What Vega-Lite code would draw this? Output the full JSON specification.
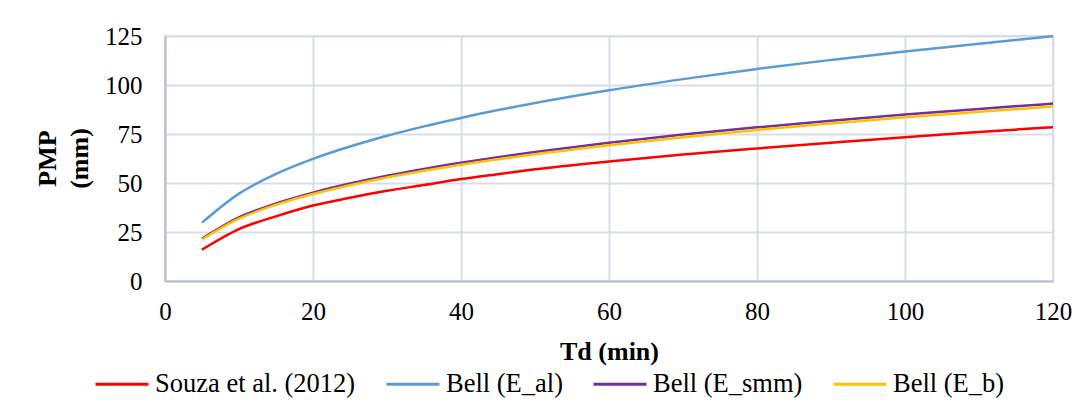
{
  "$schema": "https://vega.github.io/schema/vega-lite/v6.json",
  "width": 888,
  "height": 245,
  "autosize": {"type": "none"},
  "padding": {"left": 165, "top": 36, "right": 30, "bottom": 135},
  "background": "white",
  "config": {
    "font": "Liberation Serif",
    "view": {"stroke": "#D9DEE6", "strokeWidth": 2}
  },
  "data": {
    "values": [
      {"td": 5, "pmp": 16.0, "s": "Souza et al. (2012)"},
      {"td": 10, "pmp": 26.5, "s": "Souza et al. (2012)"},
      {"td": 15, "pmp": 33.0, "s": "Souza et al. (2012)"},
      {"td": 20, "pmp": 38.5, "s": "Souza et al. (2012)"},
      {"td": 25, "pmp": 42.5, "s": "Souza et al. (2012)"},
      {"td": 30, "pmp": 46.0, "s": "Souza et al. (2012)"},
      {"td": 35, "pmp": 49.0, "s": "Souza et al. (2012)"},
      {"td": 40, "pmp": 52.0, "s": "Souza et al. (2012)"},
      {"td": 45, "pmp": 54.5, "s": "Souza et al. (2012)"},
      {"td": 50, "pmp": 57.0, "s": "Souza et al. (2012)"},
      {"td": 60, "pmp": 61.0, "s": "Souza et al. (2012)"},
      {"td": 70, "pmp": 64.5, "s": "Souza et al. (2012)"},
      {"td": 80, "pmp": 67.6, "s": "Souza et al. (2012)"},
      {"td": 90, "pmp": 70.5, "s": "Souza et al. (2012)"},
      {"td": 100, "pmp": 73.4, "s": "Souza et al. (2012)"},
      {"td": 110, "pmp": 76.0, "s": "Souza et al. (2012)"},
      {"td": 120, "pmp": 78.5, "s": "Souza et al. (2012)"},

      {"td": 5, "pmp": 29.8, "s": "Bell (E_al)"},
      {"td": 10, "pmp": 44.6, "s": "Bell (E_al)"},
      {"td": 15, "pmp": 54.6, "s": "Bell (E_al)"},
      {"td": 20, "pmp": 62.3, "s": "Bell (E_al)"},
      {"td": 25, "pmp": 68.6, "s": "Bell (E_al)"},
      {"td": 30, "pmp": 74.1, "s": "Bell (E_al)"},
      {"td": 35, "pmp": 78.9, "s": "Bell (E_al)"},
      {"td": 40, "pmp": 83.2, "s": "Bell (E_al)"},
      {"td": 45, "pmp": 87.2, "s": "Bell (E_al)"},
      {"td": 50, "pmp": 90.8, "s": "Bell (E_al)"},
      {"td": 60, "pmp": 97.3, "s": "Bell (E_al)"},
      {"td": 70, "pmp": 103.0, "s": "Bell (E_al)"},
      {"td": 80, "pmp": 108.2, "s": "Bell (E_al)"},
      {"td": 90, "pmp": 112.8, "s": "Bell (E_al)"},
      {"td": 100, "pmp": 117.1, "s": "Bell (E_al)"},
      {"td": 110, "pmp": 121.1, "s": "Bell (E_al)"},
      {"td": 120, "pmp": 124.9, "s": "Bell (E_al)"},

      {"td": 5, "pmp": 21.6, "s": "Bell (E_smm)"},
      {"td": 10, "pmp": 32.4, "s": "Bell (E_smm)"},
      {"td": 15, "pmp": 39.6, "s": "Bell (E_smm)"},
      {"td": 20, "pmp": 45.1, "s": "Bell (E_smm)"},
      {"td": 25, "pmp": 49.7, "s": "Bell (E_smm)"},
      {"td": 30, "pmp": 53.7, "s": "Bell (E_smm)"},
      {"td": 35, "pmp": 57.2, "s": "Bell (E_smm)"},
      {"td": 40, "pmp": 60.3, "s": "Bell (E_smm)"},
      {"td": 45, "pmp": 63.2, "s": "Bell (E_smm)"},
      {"td": 50, "pmp": 65.8, "s": "Bell (E_smm)"},
      {"td": 60, "pmp": 70.5, "s": "Bell (E_smm)"},
      {"td": 70, "pmp": 74.7, "s": "Bell (E_smm)"},
      {"td": 80, "pmp": 78.4, "s": "Bell (E_smm)"},
      {"td": 90, "pmp": 81.8, "s": "Bell (E_smm)"},
      {"td": 100, "pmp": 84.9, "s": "Bell (E_smm)"},
      {"td": 110, "pmp": 87.8, "s": "Bell (E_smm)"},
      {"td": 120, "pmp": 90.5, "s": "Bell (E_smm)"},

      {"td": 5, "pmp": 21.2, "s": "Bell (E_b)"},
      {"td": 10, "pmp": 31.8, "s": "Bell (E_b)"},
      {"td": 15, "pmp": 38.9, "s": "Bell (E_b)"},
      {"td": 20, "pmp": 44.4, "s": "Bell (E_b)"},
      {"td": 25, "pmp": 48.9, "s": "Bell (E_b)"},
      {"td": 30, "pmp": 52.8, "s": "Bell (E_b)"},
      {"td": 35, "pmp": 56.2, "s": "Bell (E_b)"},
      {"td": 40, "pmp": 59.3, "s": "Bell (E_b)"},
      {"td": 45, "pmp": 62.1, "s": "Bell (E_b)"},
      {"td": 50, "pmp": 64.7, "s": "Bell (E_b)"},
      {"td": 60, "pmp": 69.3, "s": "Bell (E_b)"},
      {"td": 70, "pmp": 73.4, "s": "Bell (E_b)"},
      {"td": 80, "pmp": 77.1, "s": "Bell (E_b)"},
      {"td": 90, "pmp": 80.4, "s": "Bell (E_b)"},
      {"td": 100, "pmp": 83.5, "s": "Bell (E_b)"},
      {"td": 110, "pmp": 86.3, "s": "Bell (E_b)"},
      {"td": 120, "pmp": 89.0, "s": "Bell (E_b)"}
    ]
  },
  "mark": {"type": "line", "strokeWidth": 2.5, "interpolate": "monotone"},
  "encoding": {
    "x": {
      "field": "td",
      "type": "quantitative",
      "scale": {"domain": [0, 120], "nice": false},
      "axis": {
        "title": "Td (min)",
        "values": [0, 20, 40, 60, 80, 100, 120],
        "ticks": false,
        "tickSize": 0,
        "labelPadding": 18,
        "labelFont": "Liberation Serif",
        "labelFontSize": 25,
        "labelColor": "#000000",
        "labelFlush": false,
        "domainColor": "#B4BFD0",
        "domainWidth": 2,
        "gridColor": "#D9DEE6",
        "gridWidth": 2,
        "titleFont": "Liberation Serif",
        "titleFontSize": 26,
        "titleFontWeight": "bold",
        "titleColor": "#000000",
        "titleBaseline": "middle",
        "titleY": 70
      }
    },
    "y": {
      "field": "pmp",
      "type": "quantitative",
      "scale": {"domain": [0, 125], "nice": false},
      "axis": {
        "title": ["PMP", "(mm)"],
        "values": [0, 25, 50, 75, 100, 125],
        "ticks": false,
        "tickSize": 0,
        "labelPadding": 23,
        "labelFont": "Liberation Serif",
        "labelFontSize": 25,
        "labelColor": "#000000",
        "labelFlush": false,
        "domainColor": "#B4BFD0",
        "domainWidth": 2,
        "gridColor": "#D9DEE6",
        "gridWidth": 2,
        "titleFont": "Liberation Serif",
        "titleFontSize": 26,
        "titleFontWeight": "bold",
        "titleColor": "#000000",
        "titleLineHeight": 32,
        "titleBaseline": "middle",
        "titleAngle": -90,
        "titleX": -118,
        "titleY": 122
      }
    },
    "color": {
      "field": "s",
      "type": "nominal",
      "sort": null,
      "scale": {
        "domain": ["Souza et al. (2012)", "Bell (E_al)", "Bell (E_smm)", "Bell (E_b)"],
        "range": ["#FF0000", "#5B9BD5", "#7030A0", "#FFC000"]
      },
      "legend": {
        "title": null,
        "orient": "none",
        "direction": "horizontal",
        "legendX": -71,
        "legendY": 320,
        "symbolType": "stroke",
        "symbolSize": 2809,
        "symbolStrokeWidth": 3,
        "labelFont": "Liberation Serif",
        "labelFontSize": 26.5,
        "labelColor": "#000000",
        "labelOffset": 5,
        "columnPadding": 24,
        "labelLimit": 400
      }
    }
  }
}
